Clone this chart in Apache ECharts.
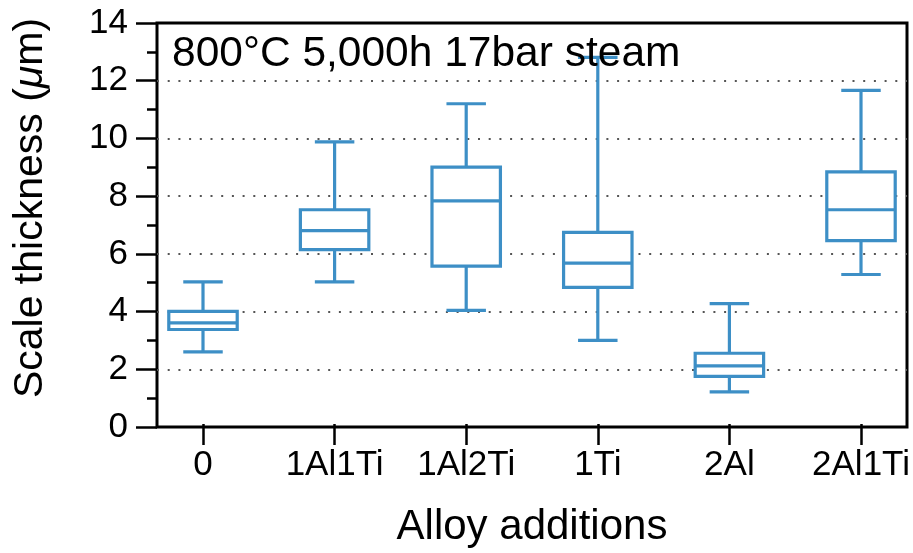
<!DOCTYPE html>
<html>
<head>
<meta charset="utf-8">
<script src="https://cdn.jsdelivr.net/npm/echarts@6/dist/echarts.min.js"></script>
<style>
  html, body { margin: 0; padding: 0; background: #fff; }
  #chart { width: 913px; height: 553px; }
</style>
</head>
<body>
<div id="chart"></div>
<script>
// Scale thickness after 800°C / 5,000 h / 17 bar steam exposure, by alloy addition
const categories = ['0', '1Al1Ti', '1Al2Ti', '1Ti', '2Al', '2Al1Ti'];
const lowWhisker  = [2.52, 4.96, 3.97, 2.92, 1.12, 5.22];
const lowerQuart  = [3.30, 6.09, 5.51, 4.77, 1.66, 6.40];
const medians     = [3.53, 6.75, 7.79, 5.62, 2.03, 7.48];
const upperQuart  = [3.93, 7.48, 8.97, 6.69, 2.47, 8.80];
const highWhisker = [4.96, 9.85, 11.18, 12.80, 4.20, 11.65];
const yTicks = [0, 2, 4, 6, 8, 10, 12, 14];

const FONT = '"Liberation Sans", Arial, Helvetica, sans-serif';
const BOX_COLOR = '#3d8fc6';
const BOX_LINE = 3.2;

const boxData = categories.map((c, i) =>
  [i, lowWhisker[i], lowerQuart[i], medians[i], upperQuart[i], highWhisker[i]]);

function renderBox(params, api) {
  const i = api.value(0);
  const step = api.size([1, 0])[0];
  const halfBox = step * 0.26;
  const halfCap = step * 0.15;
  const pLow = api.coord([i, api.value(1)]);
  const pQ1 = api.coord([i, api.value(2)]);
  const pMed = api.coord([i, api.value(3)]);
  const pQ3 = api.coord([i, api.value(4)]);
  const pHigh = api.coord([i, api.value(5)]);
  const cx = pMed[0];
  const stroke = { stroke: BOX_COLOR, lineWidth: BOX_LINE, fill: null };
  const line = (x1, y1, x2, y2) => ({
    type: 'line', shape: { x1, y1, x2, y2 }, style: stroke
  });
  return {
    type: 'group',
    children: [
      line(cx, pQ3[1], cx, pHigh[1]),
      line(cx, pQ1[1], cx, pLow[1]),
      line(cx - halfCap, pHigh[1], cx + halfCap, pHigh[1]),
      line(cx - halfCap, pLow[1], cx + halfCap, pLow[1]),
      {
        type: 'rect',
        shape: { x: cx - halfBox, y: pQ3[1], width: halfBox * 2, height: pQ1[1] - pQ3[1] },
        style: { stroke: BOX_COLOR, lineWidth: BOX_LINE, fill: '#fff' }
      },
      line(cx - halfBox, pMed[1], cx + halfBox, pMed[1])
    ]
  };
}

const chart = echarts.init(document.getElementById('chart'), null, { renderer: 'canvas' });
chart.setOption({
  animation: false,
  backgroundColor: '#fff',
  textStyle: { fontFamily: FONT },
  title: {
    text: '800°C 5,000h 17bar steam',
    left: 172,
    top: 33,
    padding: 0,
    textStyle: { fontFamily: FONT, fontSize: 42.5, fontWeight: 'normal', color: '#000' }
  },
  grid: [
    // category grid: boxes sit inside the frame with side margins
    { left: 203, right: 52, top: 23, bottom: 126, containLabel: false },
    // frame grid: border, gridlines and the visible y axis
    { left: 157, right: 6, top: 23, bottom: 126, show: true, borderColor: '#000',
      borderWidth: 3, backgroundColor: 'transparent', containLabel: false }
  ],
  xAxis: [
    {
      gridIndex: 0,
      type: 'category',
      data: categories,
      boundaryGap: false,
      axisLine: { show: false },
      axisTick: { show: true, length: 21, inside: false, lineStyle: { color: '#000', width: 2.5 } },
      axisLabel: { color: '#000', fontSize: 35, fontFamily: FONT, margin: 24, interval: 0 },
      splitLine: { show: false },
      name: 'Alloy additions',
      nameLocation: 'middle',
      nameGap: 82,
      nameTextStyle: { color: '#000', fontSize: 42, fontFamily: FONT }
    },
    {
      gridIndex: 1,
      type: 'value',
      min: 0, max: 1,
      show: false
    }
  ],
  yAxis: [
    {
      gridIndex: 0,
      type: 'value',
      min: 0, max: 14, interval: 2,
      show: false
    },
    {
      gridIndex: 1,
      type: 'value',
      min: 0, max: 14, interval: 2,
      axisLine: { show: false },
      axisTick: { show: true, length: 21, inside: false, lineStyle: { color: '#000', width: 2.5 } },
      minorTick: { show: true, splitNumber: 2, length: 10, lineStyle: { color: '#000', width: 2.5 } },
      axisLabel: {
        color: '#000', fontSize: 35, fontFamily: FONT, margin: 29,
        formatter: v => (yTicks.includes(v) ? String(v) : '')
      },
      splitLine: {
        show: true, showMinLine: false, showMaxLine: false,
        lineStyle: { color: '#555', width: 2, type: [2, 8.7] }
      },
      name: 'Scale thickness ({mu|μ}m)',
      nameLocation: 'middle',
      nameGap: 106,
      nameTextStyle: {
        color: '#000', fontSize: 41, fontFamily: FONT, padding: [0, 0, 0, 34],
        rich: { mu: { fontSize: 41, fontFamily: FONT, fontStyle: 'italic', color: '#000' } }
      }
    }
  ],
  series: [
    {
      type: 'custom',
      xAxisIndex: 0,
      yAxisIndex: 0,
      renderItem: renderBox,
      encode: { x: 0, y: [1, 2, 3, 4, 5] },
      data: boxData,
      z: 3
    }
  ]
});
</script>
</body>
</html>
